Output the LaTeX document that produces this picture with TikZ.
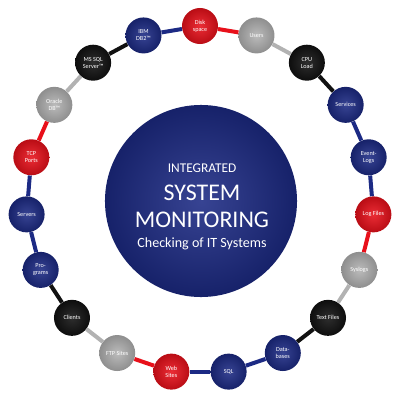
\documentclass[tikz,border=0pt]{standalone}
\usepackage{fontspec}
\setmainfont{Carlito}
\usetikzlibrary{positioning}
\definecolor{Navy}{HTML}{1C2A84}
\definecolor{Alarm}{HTML}{E8101A}
\definecolor{Coal}{HTML}{111111}
\definecolor{Steel}{HTML}{B2B2B2}
\tikzset{
  ball/.style={circle, minimum size=0.9cm, inner sep=0pt, align=center,
    shading=radial, inner color=#1!88!white, outer color=#1!80!black,
    text=white, font=\fontsize{4.4}{5}\selectfont},
  link/.style={line width=0.1cm, #1},
  hubtext/.style={text=white, anchor=base},
}
\begin{document}
\begin{tikzpicture}[x=0.025cm,y=0.025cm]
  \useasboundingbox (-200,-203) rectangle (200,200);
  % central disc
  \node[circle, minimum size=4.8cm, shading=radial, inner color=Navy!88!white,
        outer color=Navy!80!black] (hub) at (1,-1) {};
  \node[hubtext, font=\fontsize{9.5}{11}\selectfont] (ln1) at (2,28) {INTEGRATED};
  \node[hubtext, font=\fontsize{17}{19}\selectfont] (ln2) at (2,0) {SYSTEM};
  \node[hubtext, font=\fontsize{17}{19}\selectfont] (ln3) at (2,-27) {MONITORING};
  \node[hubtext, font=\fontsize{10}{12}\selectfont] (ln4) at (2,-47) {Checking of IT Systems};
  % ring of checks, clockwise from the top
  \foreach \i/\lab/\col in {
    0/{Disk\\space}/Alarm, 1/Users/Steel, 2/{CPU\\Load}/Coal,
    3/Services/Navy, 4/{Event-\\Logs}/Navy, 5/Log Files/Alarm,
    6/Syslogs/Steel, 7/Text Files/Coal, 8/{Data-\\bases}/Navy,
    9/SQL/Navy, 10/{Web\\Sites}/Alarm, 11/FTP Sites/Steel,
    12/Clients/Coal, 13/{Pro-\\grams}/Navy, 14/Servers/Navy,
    15/{TCP\\Ports}/Alarm, 16/{Oracle\\DB™}/Steel, 17/{MS SQL\\Server™}/Coal,
    18/{IBM\\DB2™}/Navy} {
    \node[ball=\col] (n\i) at ({90-360/19*\i}:174) {\lab};
  }
  \foreach \i/\col in {0/Alarm,1/Steel,2/Coal,3/Navy,4/Navy,5/Alarm,6/Steel,
    7/Coal,8/Navy,9/Navy,10/Alarm,11/Steel,12/Coal,13/Navy,14/Navy,
    15/Alarm,16/Steel,17/Coal,18/Navy} {
    \pgfmathtruncatemacro{\nx}{mod(\i+1,19)}
    \draw[link=\col] (n\i) -- (n\nx);
  }
\end{tikzpicture}
\end{document}
